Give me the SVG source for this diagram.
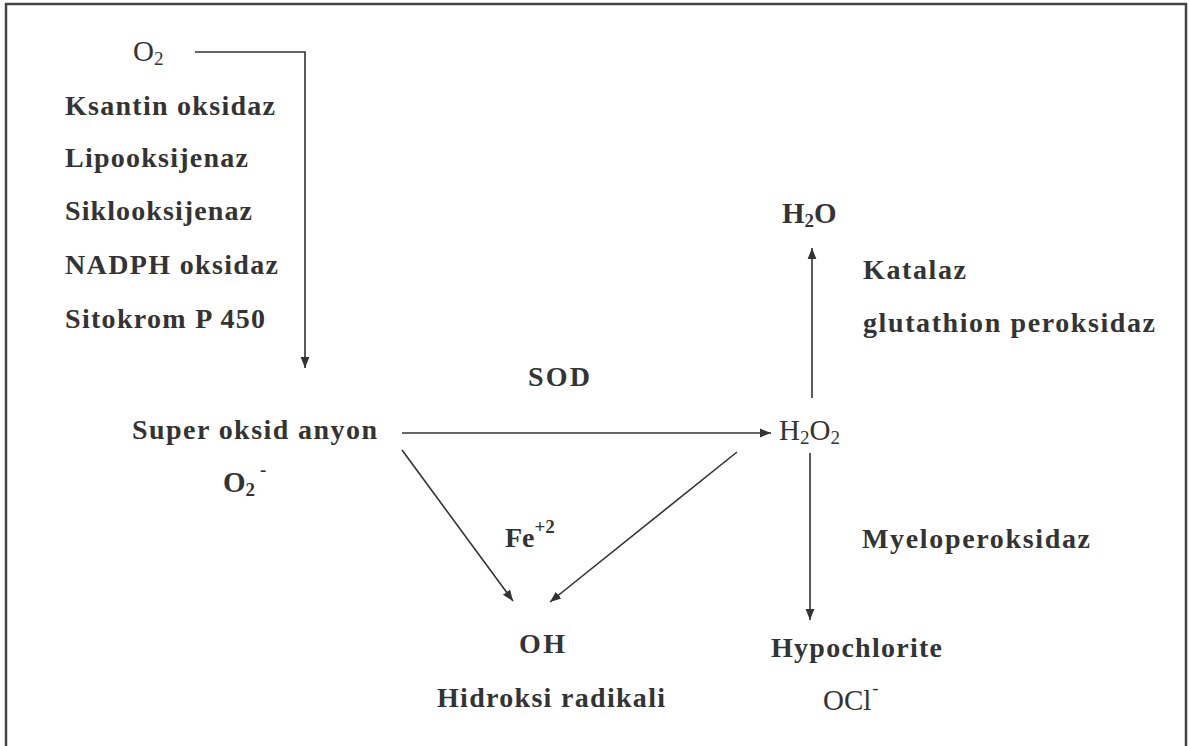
<svg xmlns="http://www.w3.org/2000/svg" width="1189" height="746" viewBox="0 0 1189 746">
<defs>
<marker id="ah" viewBox="0 0 10 10" refX="10" refY="5" markerWidth="11" markerHeight="11" markerUnits="userSpaceOnUse" orient="auto">
<path d="M0,1 L10,5 L0,9 Z" fill="#333"/>
</marker>
<style>
text{font-family:"Liberation Serif","Times New Roman",serif;font-size:28px;fill:#333}
.b{font-weight:bold}
.r{font-weight:normal}
.f{font-size:29px}
.sub{font-size:19px}
.edge{stroke:#333;stroke-width:1.6;fill:none}
</style>
</defs>
<rect width="1189" height="746" fill="#fff"/>
<path d="M6,746 V4 H1186 V746" fill="none" stroke="#444" stroke-width="2.5"/>

<g id="connectors">
<path class="edge" d="M195,52 H305 V368" marker-end="url(#ah)"/>
<path class="edge" d="M402,433 H771" marker-end="url(#ah)"/>
<path class="edge" d="M402,450 L513,601" marker-end="url(#ah)"/>
<path class="edge" d="M737,452 L550,602" marker-end="url(#ah)"/>
<path class="edge" d="M812,398 V248" marker-end="url(#ah)"/>
<path class="edge" d="M810,453 V620" marker-end="url(#ah)"/>
</g>

<g id="node-o2">
<text class="r f" x="133" y="61">O<tspan class="sub" dy="4">2</tspan></text>
</g>
<g id="node-enzymes">
<text class="b" x="65" y="115" textLength="210" lengthAdjust="spacing">Ksantin oksidaz</text>
<text class="b" x="65" y="167" textLength="183" lengthAdjust="spacing">Lipooksijenaz</text>
<text class="b" x="65" y="220" textLength="187" lengthAdjust="spacing">Siklooksijenaz</text>
<text class="b" x="65" y="274" textLength="213" lengthAdjust="spacing">NADPH oksidaz</text>
<text class="b" x="65" y="328" textLength="200" lengthAdjust="spacing">Sitokrom P 450</text>
</g>
<g id="node-superoxide">
<text class="b" x="132" y="439" textLength="245" lengthAdjust="spacing">Super oksid anyon</text>
<text class="b f" x="223" y="492">O<tspan class="sub" dy="4">2</tspan><tspan class="sub" dx="5" dy="-20">-</tspan></text>
</g>
<g id="node-sod">
<text class="b" x="528" y="386" textLength="62" lengthAdjust="spacing">SOD</text>
</g>
<g id="node-h2o2">
<text class="r f" x="779" y="440">H<tspan class="sub" dy="4">2</tspan><tspan dy="-4">O</tspan><tspan class="sub" dy="4">2</tspan></text>
</g>
<g id="node-h2o">
<text class="b f" x="782" y="223">H<tspan class="sub" dy="4">2</tspan><tspan dy="-4">O</tspan></text>
</g>
<g id="node-katalaz">
<text class="b" x="863" y="279" textLength="103" lengthAdjust="spacing">Katalaz</text>
<text class="b" x="863" y="332" textLength="292" lengthAdjust="spacing">glutathion peroksidaz</text>
</g>
<g id="node-fe">
<text class="b" x="505" y="547">Fe<tspan class="sub" dy="-14">+2</tspan></text>
</g>
<g id="node-oh">
<text class="b" x="519" y="653" textLength="46" lengthAdjust="spacing">OH</text>
<text class="b" x="437" y="707" textLength="228" lengthAdjust="spacing">Hidroksi radikali</text>
</g>
<g id="node-myelo">
<text class="b" x="862" y="548" textLength="228" lengthAdjust="spacing">Myeloperoksidaz</text>
</g>
<g id="node-hypochlorite">
<text class="b" x="771" y="657" textLength="171" lengthAdjust="spacing">Hypochlorite</text>
<text class="r f" x="823" y="710">OCl<tspan class="sub" dx="1" dy="-16">-</tspan></text>
</g>
</svg>
